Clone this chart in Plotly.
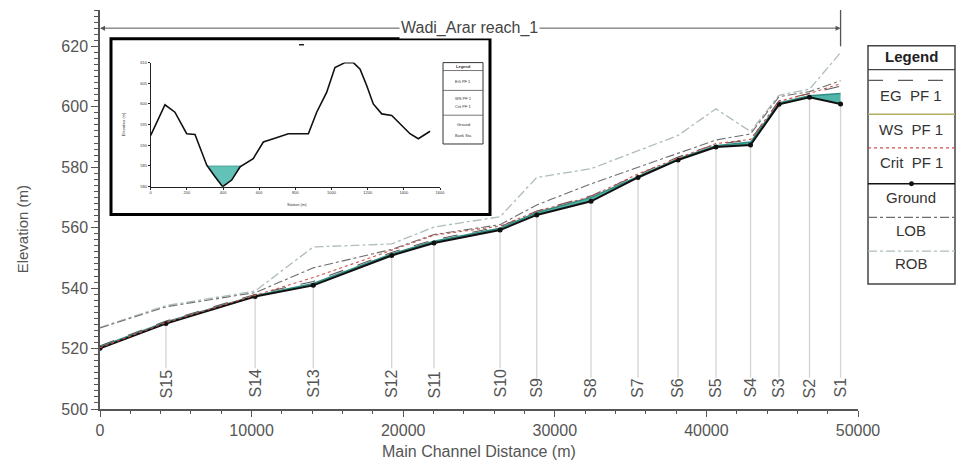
import numpy as np
import plotly.graph_objects as go

# ---- Longitudinal profile of the reach (station 0 = downstream end) ----
section_names = ["", "S15", "S14", "S13", "S12", "S11", "S10", "S9", "S8",
                 "S7", "S6", "S5", "S4", "S3", "S2", "S1"]
channel_dist = [0, 4350, 10230, 14070, 19240, 22030, 26390, 28810, 32390,
                35490, 38130, 40630, 42910, 44790, 46800, 48850]
ground = [520.1, 528.3, 537.2, 540.9, 550.8, 554.9, 559.2, 564.2, 568.7,
          576.6, 582.4, 586.7, 587.3, 600.8, 603.1, 600.9]
ws_pf1 = [520.6, 528.8, 537.5, 541.5, 551.3, 555.5, 559.8, 565.0, 570.0,
          577.0, 582.8, 587.1, 588.3, 601.3, 603.6, 604.4]
eg_pf1 = [520.9, 529.1, 537.9, 542.2, 551.8, 556.0, 560.3, 565.5, 570.5,
          577.6, 583.4, 587.6, 589.0, 602.0, 604.3, 606.8]
crit_pf1 = [520.3, 528.6, 537.6, 543.5, 552.5, 557.5, 560.5, 565.4, 570.3,
            577.8, 583.0, 587.8, 589.2, 601.8, 604.4, 607.6]
lob = [526.8, 533.8, 538.5, 546.7, 552.8, 557.7, 561.0, 567.5, 574.5,
       580.0, 584.5, 589.0, 591.0, 603.3, 605.0, 608.6]
rob = [527.0, 534.2, 539.0, 553.6, 554.6, 560.2, 563.6, 576.6, 579.5,
       585.4, 590.5, 599.3, 591.8, 603.8, 605.8, 617.9]

reach_name = "Wadi_Arar reach_1"
x_ticks = [0, 10000, 20000, 30000, 40000, 50000]
y_ticks = [500, 520, 540, 560, 580, 600, 620]

# ---- Cross-section shown in the small window ----
xs_station = [0, 79, 134, 199, 245, 310, 356, 398, 448, 494, 567, 623, 678,
              733, 761, 872, 918, 973, 1019, 1075, 1121, 1158, 1195, 1231,
              1278, 1333, 1379, 1434, 1480, 1545]
xs_elev = [592.4, 599.8, 598.0, 592.8, 592.6, 585.2, 582.4, 580.0, 581.6,
           584.8, 586.8, 590.8, 591.6, 592.4, 592.8, 592.8, 598.0, 602.8,
           608.8, 610.0, 610.0, 608.4, 604.4, 600.0, 597.6, 597.2, 595.2,
           592.8, 591.6, 593.4]
xs_ws = 585.0
xs_x_ticks = [0, 200, 400, 600, 800, 1000, 1200, 1400, 1600]
xs_y_ticks = [580, 585, 590, 595, 600, 605, 610]

legend_names = ["EG  PF 1", "WS  PF 1", "Crit  PF 1", "Ground", "LOB", "ROB"]
inset_legend_names = ["EG PF 1", "WS PF 1", "Crit PF 1", "Ground", "Bank Sta"]

# ---- figure geometry (pixels) ----
W, H = 958, 476
L, R, T, B = 100, 100, 7, 67
PW, PH = W - L - R, H - T - B
Y_MIN, Y_MAX = 500, 632
M_PER_PX = (Y_MAX - Y_MIN) / PH


def px_x(px):
    return (px - L) / PW


def px_y(py):
    return (H - B - py) / PH


FONT = "Liberation Sans, Arial, sans-serif"
GREY = "#555555"
C_EG = "#5a5a5a"
C_WS = "#2f8c82"
C_FILL = "#4fb5a8"
C_CRIT = "#d0504a"
C_LOB = "#6e6e6e"
C_ROB = "#aebdbb"


def note(x, y, text, size, color="#333", **kw):
    """Centred paper-referenced text."""
    d = dict(xref="paper", yref="paper", x=x, y=y, text=text, showarrow=False,
             xanchor="center", yanchor="middle",
             font=dict(size=size, color=color, family=FONT))
    d.update(kw)
    return d


fig = go.Figure()

# vertical section markers from ground down to the section label
LABEL_BASE = 503.0
sec_x, sec_y = [], []
for d, g, name in zip(channel_dist, ground, section_names):
    if not name:
        continue
    label_len_m = 0.6 * 16 * len(name) * M_PER_PX
    sec_x += [d, d, None]
    sec_y += [g, LABEL_BASE + label_len_m + 1.0, None]
fig.add_trace(go.Scatter(x=sec_x, y=sec_y, mode="lines",
                         line=dict(color="#d4d4d4", width=1.3),
                         hoverinfo="skip", showlegend=False))

fig.add_trace(go.Scatter(x=channel_dist, y=rob, mode="lines",
                         line=dict(color=C_ROB, width=1.3, dash="dashdot"),
                         showlegend=False))
fig.add_trace(go.Scatter(x=channel_dist, y=lob, mode="lines",
                         line=dict(color=C_LOB, width=1.1, dash="dashdot"),
                         showlegend=False))
# water surface, then ground filled up to it
fig.add_trace(go.Scatter(x=channel_dist, y=ws_pf1, mode="lines",
                         line=dict(color=C_WS, width=1.5), showlegend=False))
fig.add_trace(go.Scatter(x=channel_dist, y=ground, mode="lines+markers",
                         fill="tonexty", fillcolor=C_FILL,
                         line=dict(color="#111111", width=2),
                         marker=dict(color="#111111", size=5),
                         showlegend=False))
fig.add_trace(go.Scatter(x=channel_dist, y=eg_pf1, mode="lines",
                         line=dict(color=C_EG, width=1.1, dash="longdash"),
                         showlegend=False))
fig.add_trace(go.Scatter(x=channel_dist, y=crit_pf1, mode="lines",
                         line=dict(color=C_CRIT, width=1.1, dash="dot"),
                         showlegend=False))

# ---- cross-section window ----
xs_station_a = np.array(xs_station, dtype=float)
xs_elev_a = np.array(xs_elev, dtype=float)
i_min = int(np.argmin(xs_elev_a))
i_left = i_min
while xs_elev_a[i_left] < xs_ws:
    i_left -= 1
i_right = i_min
while xs_elev_a[i_right] < xs_ws:
    i_right += 1


def cross(i0, i1):
    e0, e1 = xs_elev_a[i0], xs_elev_a[i1]
    t = (xs_ws - e0) / (e1 - e0)
    return xs_station_a[i0] + t * (xs_station_a[i1] - xs_station_a[i0])


x_wl = cross(i_left, i_left + 1)
x_wr = cross(i_right - 1, i_right)
poly_x = [x_wl] + list(xs_station_a[i_left + 1:i_right]) + [x_wr, x_wl]
poly_y = [xs_ws] + list(xs_elev_a[i_left + 1:i_right]) + [xs_ws, xs_ws]
fig.add_trace(go.Scatter(x=poly_x, y=poly_y, fill="toself", fillcolor="#62c2b7",
                         line=dict(color="#3d9d92", width=0.8), mode="lines",
                         xaxis="x2", yaxis="y2", showlegend=False))
fig.add_trace(go.Scatter(x=xs_station, y=xs_elev, mode="lines",
                         line=dict(color="#111111", width=1.6),
                         xaxis="x2", yaxis="y2", showlegend=False))

shapes = []
annotations = []

# frame of the cross-section window
shapes.append(dict(type="rect", xref="paper", yref="paper",
                   x0=px_x(111), x1=px_x(490), y0=px_y(213), y1=px_y(36),
                   line=dict(color="#000000", width=3), fillcolor="white",
                   layer="below"))
shapes.append(dict(type="line", xref="paper", yref="paper",
                   x0=px_x(299), x1=px_x(304), y0=px_y(42), y1=px_y(42),
                   line=dict(color="#222", width=1.5)))
annotations.append(note(px_x(123), px_y(122), "Elevation (m)", 4, textangle=-90))
annotations.append(note(px_x(297), px_y(203), "Station (m)", 4))
# small legend of the window
shapes.append(dict(type="rect", xref="paper", yref="paper",
                   x0=px_x(443), x1=px_x(483), y0=px_y(142), y1=px_y(60),
                   line=dict(color="#333", width=1), fillcolor="white"))
annotations.append(note(px_x(463), px_y(64), "<b>Legend</b>", 4))
for yy in [68, 88, 113]:
    shapes.append(dict(type="line", xref="paper", yref="paper",
                       x0=px_x(443), x1=px_x(483), y0=px_y(yy), y1=px_y(yy),
                       line=dict(color="#555", width=0.8)))
for name, yy in zip(inset_legend_names, [79, 96, 104, 122, 133]):
    annotations.append(note(px_x(463), px_y(yy), name, 4))

# section labels along the bottom
for d, name in zip(channel_dist, section_names):
    if not name:
        continue
    annotations.append(dict(x=d, y=LABEL_BASE, xref="x", yref="y", text=name,
                            textangle=-90, yanchor="bottom", xanchor="center",
                            showarrow=False,
                            font=dict(size=16, color=GREY, family=FONT)))

# reach extent with its name
reach_y = 626
reach_mid = 24400
for end in (channel_dist[0], channel_dist[-1]):
    annotations.append(dict(x=end, y=reach_y, ax=reach_mid, ay=reach_y,
                            xref="x", yref="y", axref="x", ayref="y", text="",
                            showarrow=True, arrowhead=2, arrowsize=1,
                            arrowwidth=1, arrowcolor=GREY))
shapes.append(dict(type="line", xref="x", yref="y",
                   x0=channel_dist[-1], x1=channel_dist[-1], y0=620, y1=Y_MAX,
                   line=dict(color=GREY, width=1.3)))
annotations.append(dict(x=reach_mid, y=reach_y, xref="x", yref="y",
                        text=reach_name, showarrow=False, bgcolor="white",
                        xanchor="center", yanchor="middle", borderpad=1,
                        font=dict(size=16, color="#444", family=FONT)))

# axis titles
annotations.append(note(0.5, px_y(452), "Main Channel Distance (m)", 16, GREY))
annotations.append(note(px_x(22), px_y(228), "Elevation (m)", 15, GREY,
                        textangle=-90))

# ---- legend panel on the right ----
LX0, LX1 = 868, 955
LXC = (LX0 + LX1) / 2
shapes.append(dict(type="rect", xref="paper", yref="paper",
                   x0=px_x(LX0), x1=px_x(LX1), y0=px_y(283), y1=px_y(43),
                   line=dict(color="#444", width=1.5), fillcolor="white"))
shapes.append(dict(type="line", xref="paper", yref="paper",
                   x0=px_x(LX0), x1=px_x(LX1), y0=px_y(67), y1=px_y(67),
                   line=dict(color="#444", width=1.2)))
annotations.append(note(px_x(LXC), px_y(54), "<b>Legend</b>", 15, "#222"))
legend_styles = [
    dict(color=C_EG, width=1.3, dash="longdash"),
    dict(color="#b3ad64", width=1.5, dash="solid"),
    dict(color=C_CRIT, width=1.3, dash="dot"),
    dict(color="#111111", width=1.5, dash="solid"),
    dict(color=C_LOB, width=1.2, dash="dashdot"),
    dict(color=C_ROB, width=1.3, dash="dashdot"),
]
row_line = [78, 112, 146, 182, 216, 250]
row_text = [93, 127, 161, 196, 229, 262]
for name, style, yl, yt in zip(legend_names, legend_styles, row_line, row_text):
    shapes.append(dict(type="line", xref="paper", yref="paper",
                       x0=px_x(LX0), x1=px_x(LX1), y0=px_y(yl), y1=px_y(yl),
                       line=style))
    annotations.append(note(px_x(LXC), px_y(yt), name, 15, "#333"))
# marker on the ground legend sample
shapes.append(dict(type="circle", xref="paper", yref="paper",
                   x0=px_x(LXC - 2.5), x1=px_x(LXC + 2.5),
                   y0=px_y(182 + 2.5), y1=px_y(182 - 2.5),
                   fillcolor="#111", line=dict(color="#111", width=0)))

fig.update_layout(
    width=W, height=H,
    margin=dict(l=L, r=R, t=T, b=B, pad=0),
    paper_bgcolor="white", plot_bgcolor="white",
    showlegend=False, hovermode=False,
    font=dict(family=FONT, color=GREY),
    xaxis=dict(range=[0, 50000], tickvals=x_ticks, tickformat="d",
               showline=True, linecolor=GREY, linewidth=1.5,
               ticks="outside", ticklen=6, tickcolor=GREY, tickwidth=1.2,
               minor=dict(dtick=2000, tick0=0, ticks="outside", ticklen=3,
                          tickcolor=GREY),
               showgrid=False, zeroline=False,
               tickfont=dict(size=16, color=GREY, family=FONT)),
    yaxis=dict(range=[Y_MIN, Y_MAX], tickvals=y_ticks,
               showline=True, linecolor=GREY, linewidth=1.5,
               ticks="outside", ticklen=7, tickcolor=GREY, tickwidth=1.2,
               minor=dict(dtick=2, tick0=500, ticks="outside", ticklen=4,
                          tickcolor=GREY),
               showgrid=False, zeroline=False,
               tickfont=dict(size=16, color=GREY, family=FONT)),
    xaxis2=dict(domain=[px_x(150.7), px_x(440)], anchor="y2",
                range=[0, 1600], tickvals=xs_x_ticks, tickformat="d",
                showline=True, linecolor="#222", linewidth=1,
                ticks="outside", ticklen=2, tickcolor="#222",
                showgrid=False, zeroline=False,
                tickfont=dict(size=4, color="#333", family=FONT)),
    yaxis2=dict(domain=[px_y(185), px_y(60)], anchor="x2",
                range=[580, 610], tickvals=xs_y_ticks,
                showline=True, linecolor="#222", linewidth=1,
                ticks="outside", ticklen=2, tickcolor="#222",
                showgrid=False, zeroline=False,
                tickfont=dict(size=4, color="#333", family=FONT)),
    shapes=shapes,
    annotations=annotations,
)

fig.write_html("out.html", config={"displayModeBar": False})
